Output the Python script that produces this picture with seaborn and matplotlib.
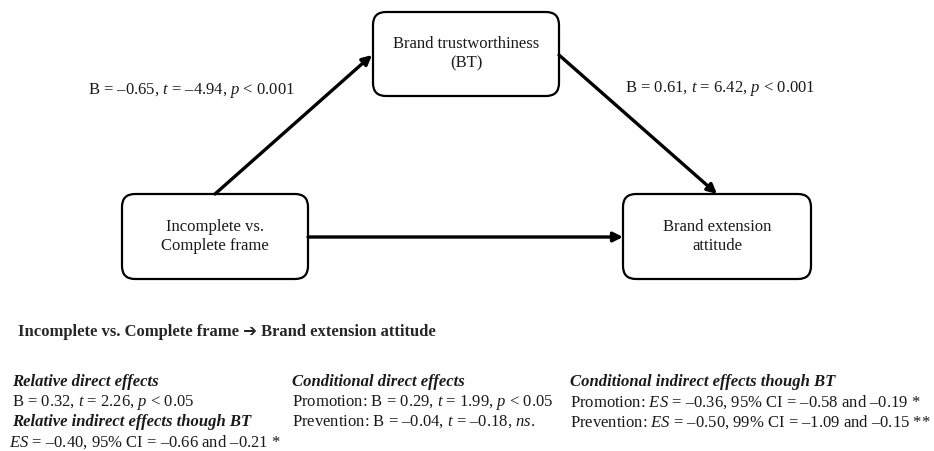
import matplotlib.pyplot as plt
import seaborn as sns
from matplotlib.patches import FancyBboxPatch

sns.set_theme(style="white")
plt.rcParams['font.family'] = ['Liberation Serif', 'DejaVu Serif', 'DejaVu Sans']
plt.rcParams['mathtext.fontset'] = 'custom'
plt.rcParams['mathtext.rm'] = 'Liberation Serif'
plt.rcParams['mathtext.it'] = 'Liberation Serif:italic'
plt.rcParams['mathtext.bf'] = 'Liberation Serif:bold'

# ---- data ----
node_labels = ["Incomplete vs.\nComplete frame", "Brand trustworthiness\n(BT)", "Brand extension\nattitude"]
path_a = "B = –0.65, $t$ = –4.94, $p$ < 0.001"
path_b = "B = 0.61, $t$ = 6.42, $p$ < 0.001"
heading = "Incomplete vs. Complete frame \u2794 Brand extension attitude"

col_left = [("Relative direct effects", True),
            ("B = 0.32, $t$ = 2.26, $p$ < 0.05", False),
            ("Relative indirect effects though BT", True),
            ("$ES$ = –0.40, 95% CI = –0.66 and –0.21 *", False)]
col_mid = [("Conditional direct effects", True),
           ("Promotion: B = 0.29, $t$ = 1.99, $p$ < 0.05", False),
           ("Prevention: B = –0.04, $t$ = –0.18, $ns.$", False)]
col_right = [("Conditional indirect effects though BT", True),
             ("Promotion: $ES$ = –0.36, 95% CI = –0.58 and –0.19 *", False),
             ("Prevention: $ES$ = –0.50, 99% CI = –1.09 and –0.15 **", False)]

# ---- layout (pixel coords) ----
boxes = [(122, 194, 186, 85), (373, 12, 186, 84), (623, 194, 188, 85)]
fs = 12

fig = plt.figure(figsize=(9.34, 4.51), dpi=100)
ax = fig.add_axes([0, 0, 1, 1])
ax.set_xlim(0, 934)
ax.set_ylim(451, 0)
ax.axis('off')

for (x, y, w, h), lab in zip(boxes, node_labels):
    ax.add_patch(FancyBboxPatch((x, y), w, h, boxstyle="round,pad=0,rounding_size=13",
                                fc='white', ec='black', lw=1.6, zorder=2))
    ax.text(x + w / 2, y + h / 2, lab, ha='center', va='center', fontsize=fs,
            linespacing=1.25, color='#1a1a1a', zorder=3)

arrow_kw = dict(arrowstyle='-|>', color='black', lw=2.4, mutation_scale=14,
                shrinkA=0, shrinkB=0)
ax.annotate("", xy=(372, 55), xytext=(215, 194), arrowprops=arrow_kw)
ax.annotate("", xy=(717, 194), xytext=(559, 55), arrowprops=arrow_kw)
ax.annotate("", xy=(623, 237), xytext=(308, 237), arrowprops=arrow_kw)

ax.text(192, 90, path_a, ha='center', va='center', fontsize=fs, color='#1a1a1a')
ax.text(720, 89, path_b, ha='center', va='center', fontsize=fs, color='#1a1a1a')

ax.text(18, 332, heading, ha='left', va='center', fontsize=fs, fontweight='bold')


def draw_column(lines, x0):
    for i, (txt, head) in enumerate(lines):
        xx = x0 - 3 if txt.startswith("$ES") else x0
        ax.text(xx, 382 + 20 * i, txt, ha='left', va='center', fontsize=fs,
                color='#1a1a1a',
                fontweight='bold' if head else 'normal',
                fontstyle='italic' if head else 'normal')


draw_column(col_left, 12)
draw_column(col_mid, 292)
draw_column(col_right, 570)

fig.savefig("out.png", dpi=100, facecolor='white')
